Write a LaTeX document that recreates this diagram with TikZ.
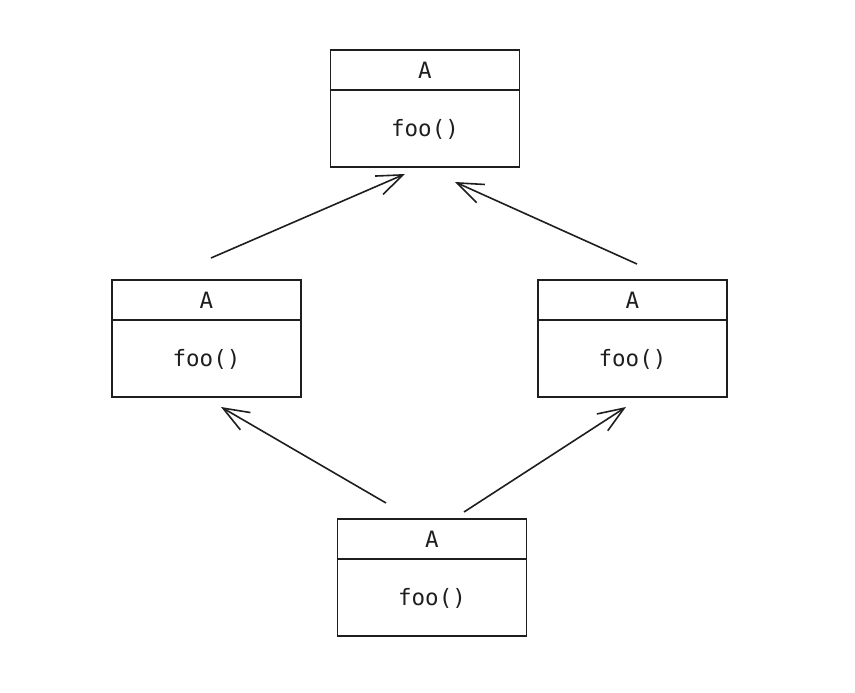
\documentclass[tikz,border=0pt]{standalone}
\usepackage{fontspec}
\setmonofont{DejaVu Sans Mono}
\usetikzlibrary{arrows.meta}
\definecolor{ink}{HTML}{1E1E1E}
\tikzset{
  classbox/.style={draw=ink, line width=1.8pt, rectangle, minimum width=189pt,
    minimum height=117pt, inner sep=0pt},
  divider/.style={draw=ink, line width=1.6pt},
  label/.style={font=\ttfamily\fontsize{22.5}{26}\selectfont, text=ink, inner sep=0pt},
  inherit/.style={draw=ink, line width=1.6pt,
    -{Straight Barb[length=26pt,width=20pt,line width=1.6pt]}}
}
% one class: box, header divider, name and method
\newcommand\classAt[3]{%
  \node[classbox] (#1) at (#2,#3) {};
  \draw[divider] ([yshift=-41pt]#1.north west) -- ([yshift=-41pt]#1.north east);
  \node[label] (#1-name) at ([yshift=-21pt]#1.north) {A};
  \node[label] (#1-op) at ([yshift=-80pt]#1.north) {foo()};
}
\begin{document}
\begin{tikzpicture}[x=1pt,y=-1pt]
  \useasboundingbox (0,0) rectangle (855,693);
  \classAt{top}{425}{108.5}
  \classAt{left}{206.5}{338.5}
  \classAt{right}{632.5}{338.5}
  \classAt{bottom}{432}{577.5}
  % connector end points
  \coordinate (l-out) at (211,258);
  \coordinate (l-in) at (405,174);
  \coordinate (r-out) at (637,264);
  \coordinate (r-in) at (455,182);
  \coordinate (bl-out) at (386,503);
  \coordinate (bl-in) at (221,407);
  \coordinate (br-out) at (464,512);
  \coordinate (br-in) at (626,407);
  \draw[inherit] (l-out) -- (l-in);
  \draw[inherit] (r-out) -- (r-in);
  \draw[inherit] (bl-out) -- (bl-in);
  \draw[inherit] (br-out) -- (br-in);
\end{tikzpicture}
\end{document}
